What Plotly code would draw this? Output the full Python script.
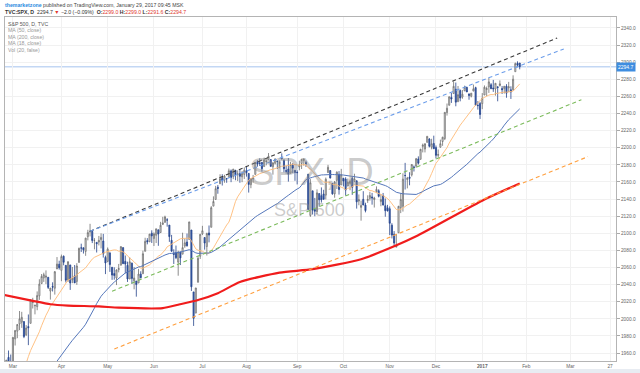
import plotly.graph_objects as go
import pandas as pd

# ---------------- data (S&P 500 daily) ----------------
FEB16 = [24, 25, 26, 29]
MAR16 = [1, 2, 3, 4, 7, 8, 9, 10, 11, 14, 15, 16, 17, 18, 21, 22, 23, 24, 28, 29, 30, 31]
APR16 = [1, 4, 5, 6, 7, 8, 11, 12, 13, 14, 15, 18, 19, 20, 21, 22, 25, 26, 27, 28, 29]
MAY16 = [2, 3, 4, 5, 6, 9, 10, 11, 12, 13, 16, 17, 18, 19, 20, 23, 24, 25, 26, 27, 31]
JUN16 = [1, 2, 3, 6, 7, 8, 9, 10, 13, 14, 15, 16, 17, 20, 21, 22, 23, 24, 27, 28, 29, 30]
JUL16 = [1, 5, 6, 7, 8, 11, 12, 13, 14, 15, 18, 19, 20, 21, 22, 25, 26, 27, 28, 29]
AUG16 = [1, 2, 3, 4, 5, 8, 9, 10, 11, 12, 15, 16, 17, 18, 19, 22, 23, 24, 25, 26, 29, 30, 31]
SEP16 = [1, 2, 6, 7, 8, 9, 12, 13, 14, 15, 16, 19, 20, 21, 22, 23, 26, 27, 28, 29, 30]
OCT16 = [3, 4, 5, 6, 7, 10, 11, 12, 13, 14, 17, 18, 19, 20, 21, 24, 25, 26, 27, 28, 31]
NOV16 = [1, 2, 3, 4, 7, 8, 9, 10, 11, 14, 15, 16, 17, 18, 21, 22, 23, 25, 28, 29, 30]
DEC16 = [1, 2, 5, 6, 7, 8, 9, 12, 13, 14, 15, 16, 19, 20, 21, 22, 23, 27, 28, 29, 30]
JAN17 = [3, 4, 5, 6, 9, 10, 11, 12, 13, 17, 18, 19, 20, 23, 24, 25, 26, 27]

MONTHS = [("2016-02", FEB16), ("2016-03", MAR16), ("2016-04", APR16), ("2016-05", MAY16),
          ("2016-06", JUN16), ("2016-07", JUL16), ("2016-08", AUG16), ("2016-09", SEP16),
          ("2016-10", OCT16), ("2016-11", NOV16), ("2016-12", DEC16), ("2017-01", JAN17)]
dates = [f"{ym}-{d:02d}" for ym, days in MONTHS for d in days]

opens = [
    1917.56, 1931.87, 1954.95, 1947.13,
    1937.09, 1976.60, 1985.60, 1994.01, 1996.11, 1996.88, 1981.44, 1990.97, 1994.71, 2019.27, 2015.27, 2014.24, 2026.90, 2041.16, 2047.88, 2048.64, 2048.55, 2032.48, 2037.89, 2035.75, 2058.27, 2063.77,
    2056.62, 2073.19, 2062.50, 2045.56, 2063.01, 2045.54, 2050.23, 2043.72, 2065.92, 2082.89, 2083.10, 2078.83, 2096.05, 2101.52, 2102.09, 2091.49, 2089.37, 2089.84, 2092.57, 2090.93, 2071.82,
    2067.17, 2077.18, 2060.30, 2052.95, 2047.77, 2057.55, 2062.63, 2083.29, 2067.17, 2062.50, 2046.53, 2065.04, 2044.38, 2044.21, 2041.88, 2052.23, 2052.65, 2078.93, 2091.44, 2090.06, 2100.13,
    2093.94, 2097.71, 2104.07, 2100.83, 2110.18, 2112.71, 2115.65, 2109.57, 2091.75, 2076.65, 2077.60, 2066.36, 2078.20, 2075.58, 2085.19, 2089.75, 2092.80, 2103.81, 2031.45, 2006.67, 2042.69, 2073.17,
    2099.34, 2095.05, 2084.43, 2100.42, 2106.97, 2131.72, 2139.50, 2153.81, 2157.88, 2165.13, 2162.04, 2163.79, 2166.10, 2172.91, 2166.47, 2173.71, 2168.97, 2169.81, 2166.05, 2168.83,
    2173.15, 2169.94, 2156.81, 2163.51, 2168.79, 2183.76, 2182.24, 2182.81, 2177.97, 2183.74, 2186.08, 2186.24, 2177.84, 2181.90, 2184.24, 2181.58, 2187.81, 2185.09, 2173.29, 2175.10, 2170.19, 2179.45, 2173.56,
    2171.33, 2177.49, 2181.61, 2185.17, 2182.76, 2169.08, 2120.86, 2149.60, 2127.86, 2125.36, 2146.48, 2143.99, 2145.94, 2144.58, 2170.94, 2173.29, 2158.54, 2146.04, 2161.85, 2168.90, 2156.51,
    2164.33, 2163.37, 2155.15, 2158.22, 2164.19, 2160.39, 2161.35, 2137.67, 2130.26, 2139.68, 2132.95, 2138.31, 2140.81, 2142.51, 2139.43, 2148.50, 2149.72, 2136.97, 2144.06, 2132.23, 2129.78,
    2128.68, 2109.43, 2098.80, 2083.79, 2100.59, 2129.92, 2131.56, 2167.49, 2162.71, 2165.64, 2168.29, 2177.53, 2178.61, 2186.85, 2186.43, 2201.56, 2198.55, 2206.27, 2210.21, 2200.76, 2204.97,
    2200.17, 2191.12, 2200.65, 2207.26, 2210.72, 2241.13, 2249.73, 2258.83, 2263.32, 2268.35, 2253.77, 2266.81, 2259.24, 2266.50, 2270.54, 2262.93, 2260.25, 2266.23, 2270.23, 2249.50, 2251.61,
    2251.57, 2261.60, 2268.18, 2271.14, 2273.59, 2269.72, 2268.60, 2271.14, 2272.74, 2269.14, 2269.14, 2271.90, 2269.96, 2267.78, 2267.88, 2288.88, 2298.63, 2299.02,
]
highs = [
    1932.08, 1951.83, 1962.96, 1958.27,
    1978.35, 1986.51, 1993.69, 2009.13, 2008.16, 1996.88, 1992.69, 2005.08, 2022.37, 2024.57, 2015.94, 2032.02, 2046.24, 2052.36, 2053.91, 2056.60, 2048.55, 2036.04, 2042.67, 2055.91, 2072.21, 2067.92,
    2075.07, 2074.02, 2062.50, 2067.33, 2063.01, 2060.63, 2062.93, 2065.05, 2083.18, 2087.84, 2083.22, 2094.66, 2104.05, 2111.05, 2103.78, 2094.32, 2089.37, 2096.87, 2099.89, 2099.30, 2073.85,
    2083.42, 2077.18, 2060.30, 2060.23, 2057.72, 2064.15, 2084.87, 2083.29, 2073.99, 2066.79, 2071.88, 2065.69, 2060.61, 2044.21, 2058.35, 2055.58, 2079.67, 2094.73, 2094.30, 2099.06, 2103.48,
    2100.97, 2105.26, 2104.07, 2113.36, 2119.22, 2120.55, 2117.64, 2109.57, 2098.12, 2081.30, 2085.65, 2079.62, 2078.20, 2100.66, 2093.66, 2099.71, 2113.32, 2103.81, 2031.45, 2036.09, 2073.13, 2098.94,
    2108.71, 2095.05, 2100.72, 2109.08, 2131.71, 2143.16, 2155.40, 2156.45, 2168.99, 2169.05, 2168.35, 2164.63, 2175.63, 2174.56, 2175.11, 2173.71, 2173.54, 2174.98, 2172.85, 2177.09,
    2178.29, 2170.20, 2163.79, 2168.19, 2182.87, 2185.44, 2187.66, 2183.41, 2188.45, 2186.28, 2193.81, 2186.24, 2183.08, 2187.03, 2185.00, 2185.15, 2193.42, 2186.66, 2179.00, 2187.94, 2183.48, 2182.27, 2173.79,
    2173.56, 2184.87, 2186.57, 2187.87, 2184.94, 2169.08, 2163.30, 2149.60, 2141.33, 2151.31, 2146.48, 2153.61, 2150.80, 2165.11, 2179.99, 2173.75, 2158.54, 2161.13, 2172.40, 2172.67, 2175.30,
    2164.41, 2165.46, 2163.95, 2162.93, 2165.86, 2169.60, 2161.56, 2145.36, 2138.19, 2149.19, 2135.70, 2144.38, 2148.44, 2147.18, 2142.63, 2154.79, 2151.44, 2145.73, 2147.13, 2140.72, 2133.25,
    2131.45, 2111.76, 2102.56, 2099.07, 2132.00, 2146.87, 2170.10, 2182.30, 2165.92, 2171.36, 2180.84, 2179.22, 2188.06, 2189.89, 2198.70, 2204.80, 2204.72, 2213.35, 2211.14, 2210.46, 2214.10,
    2202.60, 2197.95, 2209.42, 2212.78, 2241.63, 2251.69, 2259.80, 2264.03, 2277.53, 2276.20, 2272.12, 2268.05, 2267.47, 2272.56, 2271.23, 2263.18, 2263.79, 2273.82, 2271.31, 2254.51, 2253.58,
    2263.88, 2272.82, 2271.50, 2282.10, 2275.49, 2279.27, 2275.32, 2271.78, 2278.68, 2272.08, 2272.01, 2274.33, 2276.96, 2271.78, 2284.63, 2299.55, 2300.99, 2299.02,
]
lows = [
    1891.00, 1925.41, 1945.78, 1931.81,
    1937.09, 1968.80, 1977.37, 1986.77, 1989.43, 1977.43, 1979.84, 1969.25, 1994.71, 2012.05, 2005.23, 2010.04, 2022.16, 2041.16, 2043.14, 2040.57, 2034.86, 2022.49, 2031.96, 2028.31, 2058.27, 2057.46,
    2043.98, 2062.57, 2042.56, 2043.09, 2033.80, 2041.69, 2041.88, 2039.74, 2065.92, 2078.13, 2076.31, 2073.65, 2091.68, 2096.32, 2088.52, 2081.20, 2077.52, 2085.80, 2082.31, 2071.62, 2052.28,
    2066.11, 2054.89, 2045.55, 2045.77, 2039.45, 2054.31, 2062.63, 2064.46, 2053.13, 2043.13, 2046.53, 2040.82, 2034.49, 2025.91, 2041.88, 2047.26, 2052.65, 2078.93, 2087.08, 2090.06, 2088.66,
    2085.10, 2088.59, 2085.36, 2100.83, 2110.18, 2112.71, 2107.73, 2089.96, 2078.46, 2064.10, 2069.80, 2050.37, 2062.84, 2075.58, 2083.02, 2084.36, 2092.80, 2032.57, 1991.68, 2006.67, 2042.69, 2070.00,
    2097.90, 2080.86, 2074.02, 2089.39, 2106.97, 2131.72, 2139.50, 2146.21, 2157.88, 2155.79, 2159.07, 2159.01, 2164.89, 2159.75, 2163.24, 2161.95, 2161.07, 2159.07, 2159.74, 2163.49,
    2166.21, 2147.58, 2152.70, 2159.07, 2168.79, 2177.85, 2178.61, 2172.00, 2177.97, 2179.42, 2186.08, 2178.14, 2168.50, 2180.46, 2175.13, 2175.96, 2186.80, 2171.25, 2169.74, 2160.39, 2170.19, 2170.41, 2161.35,
    2157.09, 2173.59, 2175.10, 2179.07, 2177.49, 2127.81, 2119.12, 2121.92, 2119.90, 2122.36, 2131.20, 2135.91, 2139.17, 2139.57, 2170.94, 2163.97, 2145.04, 2141.55, 2151.79, 2145.20, 2156.51,
    2154.77, 2144.01, 2155.15, 2150.28, 2144.85, 2160.39, 2128.84, 2132.77, 2114.72, 2132.98, 2124.43, 2135.49, 2138.15, 2133.44, 2130.09, 2146.91, 2141.93, 2131.59, 2132.52, 2119.36, 2125.53,
    2097.85, 2094.00, 2085.23, 2083.79, 2100.59, 2123.56, 2125.35, 2151.17, 2152.49, 2156.08, 2166.38, 2172.20, 2176.65, 2180.38, 2186.43, 2194.51, 2194.51, 2206.27, 2200.36, 2198.15, 2198.81,
    2187.44, 2188.37, 2199.97, 2202.21, 2208.93, 2237.57, 2249.23, 2252.37, 2263.32, 2248.44, 2253.77, 2254.24, 2257.21, 2266.14, 2265.15, 2256.08, 2258.84, 2266.15, 2249.11, 2244.56, 2233.62,
    2245.13, 2261.60, 2260.45, 2264.06, 2268.90, 2265.27, 2260.83, 2254.25, 2271.51, 2262.81, 2263.35, 2258.41, 2265.01, 2257.02, 2266.68, 2288.88, 2294.08, 2291.62,
]
closes = [
    1929.80, 1951.70, 1948.05, 1932.23,
    1978.35, 1986.45, 1993.40, 1999.99, 2001.76, 1979.26, 1989.26, 1989.57, 2022.19, 2019.64, 2015.93, 2027.22, 2040.59, 2049.58, 2051.60, 2049.80, 2036.71, 2035.94, 2037.05, 2055.01, 2063.95, 2059.74,
    2072.78, 2066.13, 2045.17, 2066.66, 2041.91, 2047.60, 2041.99, 2061.72, 2082.42, 2082.78, 2080.73, 2094.34, 2100.80, 2102.40, 2091.48, 2091.58, 2087.79, 2091.70, 2095.15, 2075.81, 2065.30,
    2081.43, 2063.37, 2051.12, 2050.63, 2057.14, 2058.69, 2084.39, 2064.46, 2064.11, 2046.61, 2066.66, 2047.21, 2047.63, 2040.04, 2052.32, 2048.04, 2076.06, 2090.54, 2090.10, 2099.06, 2096.95,
    2099.33, 2105.26, 2099.13, 2109.41, 2112.13, 2119.12, 2115.48, 2096.07, 2079.06, 2075.32, 2071.50, 2077.99, 2071.22, 2083.25, 2088.90, 2085.45, 2113.32, 2037.41, 2000.54, 2036.09, 2070.77, 2098.86,
    2102.95, 2088.55, 2099.73, 2097.90, 2129.90, 2137.16, 2152.14, 2152.43, 2163.75, 2161.74, 2166.89, 2163.78, 2173.02, 2165.17, 2175.03, 2168.48, 2169.18, 2166.58, 2170.06, 2173.60,
    2170.84, 2157.03, 2163.79, 2164.25, 2182.87, 2180.89, 2181.74, 2175.49, 2185.79, 2184.05, 2190.15, 2178.15, 2182.22, 2187.02, 2183.87, 2182.64, 2186.90, 2175.44, 2172.47, 2169.04, 2180.38, 2176.12, 2170.95,
    2170.86, 2179.98, 2186.48, 2186.16, 2181.30, 2127.81, 2159.04, 2127.02, 2125.77, 2147.26, 2139.16, 2139.12, 2139.76, 2163.12, 2177.18, 2164.69, 2146.10, 2159.93, 2171.37, 2151.13, 2168.27,
    2161.20, 2150.49, 2159.73, 2160.77, 2153.74, 2163.66, 2136.73, 2139.18, 2132.55, 2132.98, 2126.50, 2139.60, 2144.29, 2141.34, 2141.16, 2151.33, 2143.16, 2139.43, 2133.04, 2126.41, 2126.15,
    2111.72, 2097.94, 2088.66, 2085.18, 2131.52, 2139.56, 2163.26, 2167.48, 2164.45, 2164.20, 2180.39, 2176.94, 2187.12, 2181.90, 2198.18, 2202.94, 2204.72, 2213.35, 2201.72, 2204.66, 2198.81,
    2191.08, 2191.95, 2204.71, 2212.23, 2241.35, 2246.19, 2259.53, 2256.96, 2271.72, 2253.28, 2262.03, 2258.07, 2262.53, 2270.76, 2265.18, 2260.96, 2263.79, 2268.88, 2249.92, 2249.26, 2238.83,
    2257.83, 2270.75, 2269.00, 2276.98, 2268.90, 2268.90, 2275.32, 2270.44, 2274.64, 2267.89, 2271.89, 2263.69, 2271.31, 2265.20, 2280.07, 2298.37, 2296.68, 2294.69,
]
# closes before the visible window (needed by the moving averages)
pre_closes = [
    2012.66, 2016.71, 1990.26, 1943.09, 1922.03, 1923.67, 1938.68, 1890.28, 1921.84, 1880.33,
    1881.33, 1859.33, 1868.99, 1906.90, 1877.08, 1903.63, 1882.95, 1893.36, 1940.24,
    1939.38, 1903.03, 1912.53, 1915.45, 1880.05, 1853.44, 1852.21, 1851.86, 1829.08, 1864.78,
    1895.58, 1926.82, 1917.83, 1917.78, 1945.50, 1921.27,
]
# MA(200)
ma200_dates = ["2016-02-24", "2016-03-14", "2016-03-24", "2016-04-06", "2016-04-26", "2016-05-09",
               "2016-06-07", "2016-06-16", "2016-06-29", "2016-07-13", "2016-07-27", "2016-08-22",
               "2016-09-13", "2016-10-13", "2016-11-03", "2016-11-17", "2017-01-04", "2017-01-27"]
ma200_vals = [2028.0, 2021.0, 2017.0, 2015.5, 2014.5, 2013.0, 2012.5, 2016.5, 2022.0, 2030.0,
              2043.0, 2054.0, 2058.0, 2069.6, 2084.7, 2096.4, 2139.5, 2158.2]

# trend lines drawn on the chart (date, price)
tl_black_x = ["2016-04-20", "2017-02-21"]; tl_black_y = [2102.4, 2328.3]
tl_blue_x = ["2016-04-20", "2017-02-24"];  tl_blue_y = [2102.4, 2315.5]
tl_green_x = ["2016-05-04", "2017-03-08"]; tl_green_y = [2032.3, 2256.1]
tl_orange_x = ["2016-05-05", "2017-03-13"]; tl_orange_y = [1964.7, 2189.6]

holidays = ["2016-03-25", "2016-05-30", "2016-07-04", "2016-09-05", "2016-11-24",
            "2016-12-26", "2017-01-02", "2017-01-16"]
tick_dates = ["2016-03-01", "2016-04-01", "2016-05-02", "2016-06-01", "2016-07-01", "2016-08-01",
              "2016-09-01", "2016-10-03", "2016-11-01", "2016-12-01", "2017-01-03", "2017-02-01",
              "2017-03-01", "2017-03-27"]
tick_text = ["Mar", "Apr", "May", "Jun", "Jul", "Aug", "Sep", "Oct", "Nov", "Dec", "<b>2017</b>",
             "Feb", "Mar", "27"]
price_ticks = list(range(1960, 2341, 20))

assert len(dates) == len(opens) == len(highs) == len(lows) == len(closes), \
    (len(dates), len(opens), len(highs), len(lows), len(closes))

# moving averages from closes
all_close = pd.Series(pre_closes + closes)
n_pre = len(pre_closes)
ma18 = all_close.rolling(18).mean().iloc[n_pre:].tolist()
ma50 = all_close.rolling(50).mean().iloc[n_pre:].tolist()

FONT = "Liberation Sans, Arial, sans-serif"

fig = go.Figure()
fig.add_trace(go.Candlestick(
    x=dates, open=opens, high=highs, low=lows, close=closes,
    increasing=dict(line=dict(color="#6e6e6e", width=0.8), fillcolor="#f4f4f4"),
    decreasing=dict(line=dict(color="#24438a", width=0.8), fillcolor="#3a62b3"),
    whiskerwidth=0, hoverinfo="skip"))
fig.add_trace(go.Scatter(x=dates, y=ma18, mode="lines",
                         line=dict(color="#ffbb77", width=0.9), hoverinfo="skip"))
fig.add_trace(go.Scatter(x=dates, y=ma50, mode="lines",
                         line=dict(color="#5577bb", width=1.0), hoverinfo="skip"))
fig.add_trace(go.Scatter(x=ma200_dates, y=ma200_vals, mode="lines",
                         line=dict(color="#f01c1c", width=2.2, shape="spline", smoothing=0.6),
                         hoverinfo="skip"))
for tx, ty, col in [(tl_black_x, tl_black_y, "#3a3a3a"), (tl_blue_x, tl_blue_y, "#6d9eea"),
                    (tl_green_x, tl_green_y, "#7cbb5c"), (tl_orange_x, tl_orange_y, "#ffa040")]:
    fig.add_trace(go.Scatter(x=tx, y=ty, mode="lines",
                             line=dict(color=col, width=1.1, dash="4px,3px"), hoverinfo="skip"))

last = closes[-1]
fig.add_shape(type="line", xref="paper", x0=0, x1=1, yref="y", y0=last, y1=last,
              line=dict(color="#c3d7f4", width=1.6), layer="below")
# bottom strip
fig.add_shape(type="rect", xref="paper", yref="paper", x0=-0.01, x1=1.04, y0=-0.045, y1=-0.0235,
              fillcolor="#e8ecf2", line=dict(width=0))

ann = []
ann.append(dict(xref="paper", yref="paper", x=-0.004, y=1.035, xanchor="left", yanchor="middle",
                showarrow=False, font=dict(family=FONT, size=5.2, color="#444"),
                text="<span style='color:#2a8ae0'><b>themarketzone</b></span> published on TradingView.com, January 29, 2017 09:45 MSK"))
red = "#e0362c"
ann.append(dict(xref="paper", yref="paper", x=-0.004, y=1.0155, xanchor="left", yanchor="middle",
                showarrow=False, font=dict(family=FONT, size=5.2, color="#333"),
                text=(f"<b>TVC:SPX, D</b>  {last:.1f} <span style='color:{red}'>▼</span> −2.0 (−0.09%)  "
                      f"<b>O:</b><span style='color:{red}'>{opens[-1]:.1f}</span> "
                      f"<b>H:</b><span style='color:{red}'>{highs[-1]:.1f}</span> "
                      f"<b>L:</b><span style='color:{red}'>{lows[-1]:.1f}</span> "
                      f"<b>C:</b><span style='color:{red}'>{last:.1f}</span>")))
legend_lines = [("S&P 500, D, TVC", "#555"), ("MA (50, close)", "#999"), ("MA (200, close)", "#999"),
                ("MA (18, close)", "#999"), ("Vol (20, false)", "#999")]
for i, (t, c) in enumerate(legend_lines):
    ann.append(dict(xref="paper", yref="paper", x=0.002, y=0.9797 - i * 0.0189,
                    xanchor="left", yanchor="middle", showarrow=False,
                    font=dict(family=FONT, size=5.2, color=c), text=t))
ann.append(dict(xref="paper", yref="paper", x=0.502, y=0.55, showarrow=False,
                font=dict(family=FONT, size=38, color="rgba(140,140,140,0.45)"), text="SPX, D"))
ann.append(dict(xref="paper", yref="paper", x=0.499, y=0.44, showarrow=False,
                font=dict(family=FONT, size=18, color="rgba(140,140,140,0.45)"), text="S&P 500"))
ann.append(dict(xref="paper", yref="y", x=1.0, y=last, xanchor="left", yanchor="middle",
                showarrow=False, bgcolor="#3f8de0", borderpad=1,
                font=dict(family=FONT, size=5, color="white"), text=f"{last:.1f}"))

fig.update_layout(
    width=640, height=373, margin=dict(l=4, r=21, t=17, b=11),
    paper_bgcolor="white", plot_bgcolor="white", showlegend=False,
    font=dict(family=FONT, size=5, color="#555"),
    annotations=ann,
    xaxis=dict(type="date", range=["2016-02-24 09:36", "2017-03-29 16:48"],
               rangebreaks=[dict(bounds=["sat", "mon"]), dict(values=holidays)],
               rangeslider=dict(visible=False),
               tickmode="array", tickvals=tick_dates, ticktext=tick_text,
               tickfont=dict(family=FONT, size=4.8, color="#666"),
               showgrid=True, gridcolor="#f1f1f1", gridwidth=1,
               showline=True, linecolor="#b4b4b4", linewidth=1, mirror=True,
               ticks="", zeroline=False, fixedrange=True),
    yaxis=dict(side="right", range=[1950.7, 2352.8], tickmode="array", tickvals=price_ticks,
               tickformat=".1f", tickfont=dict(family=FONT, size=4.8, color="#666"),
               showgrid=True, gridcolor="#f1f1f1", gridwidth=1,
               showline=True, linecolor="#b4b4b4", linewidth=1, mirror=True,
               ticks="outside", ticklen=3, tickcolor="#aaa", zeroline=False, fixedrange=True),
)

fig.write_html("out.html", config={"displayModeBar": False},
               post_script="document.body.style.margin='0';document.body.style.padding='0';")
